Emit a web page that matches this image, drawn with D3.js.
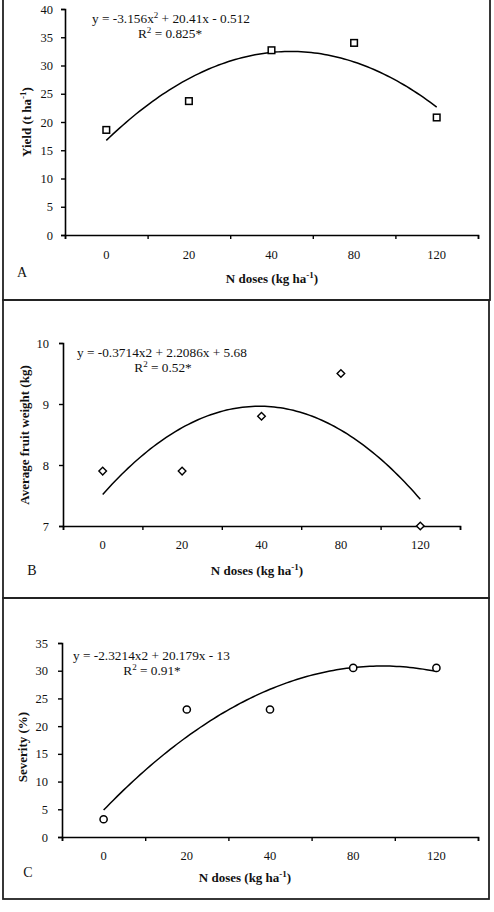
<!DOCTYPE html>
<html><head><meta charset="utf-8">
<script src="https://cdn.jsdelivr.net/npm/d3@7"></script>
<style>
body{margin:0;background:#fff;}
svg{display:block;}
text{font-family:"Liberation Serif","Times New Roman",serif;fill:#111;}
</style></head>
<body>
<script>
// ---- data ----
const doses = ["0", "20", "40", "80", "120"];
const yieldVals = [18.6, 23.7, 32.7, 34.0, 20.8];
const weightVals = [7.9, 7.9, 8.8, 9.5, 7.0];
const severityVals = [3.2, 23.0, 23.0, 30.5, 30.5];
const yieldTicks = [0, 5, 10, 15, 20, 25, 30, 35, 40];
const weightTicks = [7, 8, 9, 10];
const severityTicks = [0, 5, 10, 15, 20, 25, 30, 35];
// trendline coefficients [a, b, c] for y = a x^2 + b x + c (x = category index 1..5)
const yieldFit = [-3.156, 20.41, -0.512];
const weightFit = [-0.3714, 2.2086, 5.68];
const severityFit = [-2.3214, 20.179, -13];

const W = 494, H = 912;
const svg = d3.select("body").append("svg").attr("width", W).attr("height", H);

const panels = [
  {letter:"A", vals:yieldVals, ticks:yieldTicks, fit:yieldFit, marker:"square",
   frame:[3,-2,490,300], px:[65,478], py:[235,9], dom:[0,40],
   ytitle:"Yield (t ha", ytitleSup:"-1", ytitleEnd:")", ytx:31, yty:122,
   xlabY:259, xtitleY:283, xtitleX:272, letX:22, letY:277, tickPad:8,
   eq:["y = -3.156x", "2", " + 20.41x - 0.512"], eqX:92, eqY:23, r2:"0.825*", r2X:170, r2Y:38},
  {letter:"B", vals:weightVals, ticks:weightTicks, fit:weightFit, marker:"diamond",
   frame:[3,300,489,598], px:[63,460], py:[526,343], dom:[7,10],
   ytitle:"Average fruit weight (kg)", ytitleSup:"", ytitleEnd:"", ytx:29, yty:435,
   xlabY:549, xtitleY:575, xtitleX:257, letX:32, letY:575, tickPad:10,
   eq:["y = -0.3714x2 + 2.2086x + 5.68", "", ""], eqX:77, eqY:357, r2:"0.52*", r2X:163, r2Y:372},
  {letter:"C", vals:severityVals, ticks:severityTicks, fit:severityFit, marker:"circle",
   frame:[3,598,489,899], px:[62,478], py:[837,643], dom:[0,35],
   ytitle:"Severity (%)", ytitleSup:"", ytitleEnd:"", ytx:27, yty:747,
   xlabY:860, xtitleY:882, xtitleX:245, letX:28, letY:877, tickPad:10,
   eq:["y = -2.3214x2 + 20.179x - 13", "", ""], eqX:73, eqY:660, r2:"0.91*", r2X:152, r2Y:675}
];

panels.forEach(p => {
  const g = svg.append("g");
  // frame
  g.append("rect").attr("x", p.frame[0]).attr("y", p.frame[1])
    .attr("width", p.frame[2]-p.frame[0]).attr("height", p.frame[3]-p.frame[1])
    .attr("fill", "none").attr("stroke", "#222").attr("stroke-width", 1.8);

  const x = d3.scaleBand().domain(doses).range(p.px).padding(0);
  const xc = d3.scaleLinear().domain([0.5, doses.length + 0.5]).range(p.px);
  const y = d3.scaleLinear().domain(p.dom).range(p.py);

  // y axis
  const ya = g.append("g").attr("transform", `translate(${p.px[0]},0)`)
    .call(d3.axisLeft(y).tickValues(p.ticks).tickSize(4).tickPadding(p.tickPad).tickFormat(d3.format("d")));
  ya.attr("font-family", null).attr("font-size", null);
  ya.select(".domain").attr("stroke", "#000").attr("stroke-width", 1.6);
  ya.selectAll(".tick line").attr("stroke", "#000").attr("stroke-width", 1.4);
  ya.selectAll(".tick text").style("font-size", "12.5px").attr("fill", "#111");

  // x axis: tick marks at band boundaries
  const bounds = d3.range(doses.length + 1).map(i => i + 0.5);
  const xa = g.append("g").attr("transform", `translate(0,${p.py[0]})`)
    .call(d3.axisBottom(xc).tickValues(bounds).tickSize(4).tickFormat(""));
  xa.select(".domain").attr("stroke", "#000").attr("stroke-width", 1.6);
  xa.selectAll(".tick line").attr("stroke", "#000").attr("stroke-width", 1.4);

  // x category labels
  g.selectAll("text.xl").data(doses).join("text").attr("class", "xl")
    .attr("x", d => x(d) + x.bandwidth()/2).attr("y", p.xlabY)
    .attr("text-anchor", "middle").style("font-size", "12.5px").text(d => d);

  // x title
  const xt = g.append("text").attr("x", p.xtitleX).attr("y", p.xtitleY)
    .attr("text-anchor", "middle").style("font-size", "13px").style("font-weight", "bold");
  xt.append("tspan").text("N doses (kg ha");
  xt.append("tspan").attr("dy", -5).style("font-size", "9px").text("-1");
  xt.append("tspan").attr("dy", 5).text(")");

  // y title
  const yt = g.append("text").attr("transform", `translate(${p.ytx},${p.yty}) rotate(-90)`)
    .attr("text-anchor", "middle").style("font-size", "13px").style("font-weight", "bold");
  yt.append("tspan").text(p.ytitle);
  if (p.ytitleSup) {
    yt.append("tspan").attr("dy", -5).style("font-size", "9px").text(p.ytitleSup);
    yt.append("tspan").attr("dy", 5).text(p.ytitleEnd);
  }

  // panel letter
  g.append("text").attr("x", p.letX).attr("y", p.letY).attr("text-anchor", "middle")
    .style("font-size", "14px").text(p.letter);

  // trend curve
  const samples = d3.range(0, 101).map(i => 1 + 4 * i / 100);
  const line = d3.line().x(t => xc(t)).y(t => y(p.fit[0]*t*t + p.fit[1]*t + p.fit[2]));
  g.append("path").attr("d", line(samples)).attr("fill", "none").attr("stroke", "#000").attr("stroke-width", 1.5);

  // markers
  const pts = doses.map((d, i) => ({d, v: p.vals[i]}));
  const cx = d => x(d.d) + x.bandwidth()/2;
  if (p.marker === "square") {
    g.selectAll("rect.m").data(pts).join("rect").attr("class", "m")
      .attr("x", d => cx(d) - 3.3).attr("y", d => y(d.v) - 3.3).attr("width", 6.6).attr("height", 6.6)
      .attr("fill", "#fff").attr("stroke", "#000").attr("stroke-width", 1.5);
  } else if (p.marker === "diamond") {
    g.selectAll("path.m").data(pts).join("path").attr("class", "m")
      .attr("transform", d => `translate(${cx(d)},${y(d.v)})`)
      .attr("d", "M0,-3.8L3.8,0L0,3.8L-3.8,0Z")
      .attr("fill", "#fff").attr("stroke", "#000").attr("stroke-width", 1.4);
  } else {
    g.selectAll("circle.m").data(pts).join("circle").attr("class", "m")
      .attr("cx", cx).attr("cy", d => y(d.v)).attr("r", 3.6)
      .attr("fill", "#fff").attr("stroke", "#000").attr("stroke-width", 1.5);
  }

  // equation
  const eq = g.append("text").attr("x", p.eqX).attr("y", p.eqY).style("font-size", "13.3px");
  eq.append("tspan").text(p.eq[0]);
  if (p.eq[1]) {
    eq.append("tspan").attr("dy", -5).style("font-size", "9px").text(p.eq[1]);
    eq.append("tspan").attr("dy", 5).text(p.eq[2]);
  }
  const r2 = g.append("text").attr("x", p.r2X).attr("y", p.r2Y).attr("text-anchor", "middle").style("font-size", "13.3px");
  r2.append("tspan").text("R");
  r2.append("tspan").attr("dy", -5).style("font-size", "9px").text("2");
  r2.append("tspan").attr("dy", 5).text(" = " + p.r2);
});
</script>
</body></html>
